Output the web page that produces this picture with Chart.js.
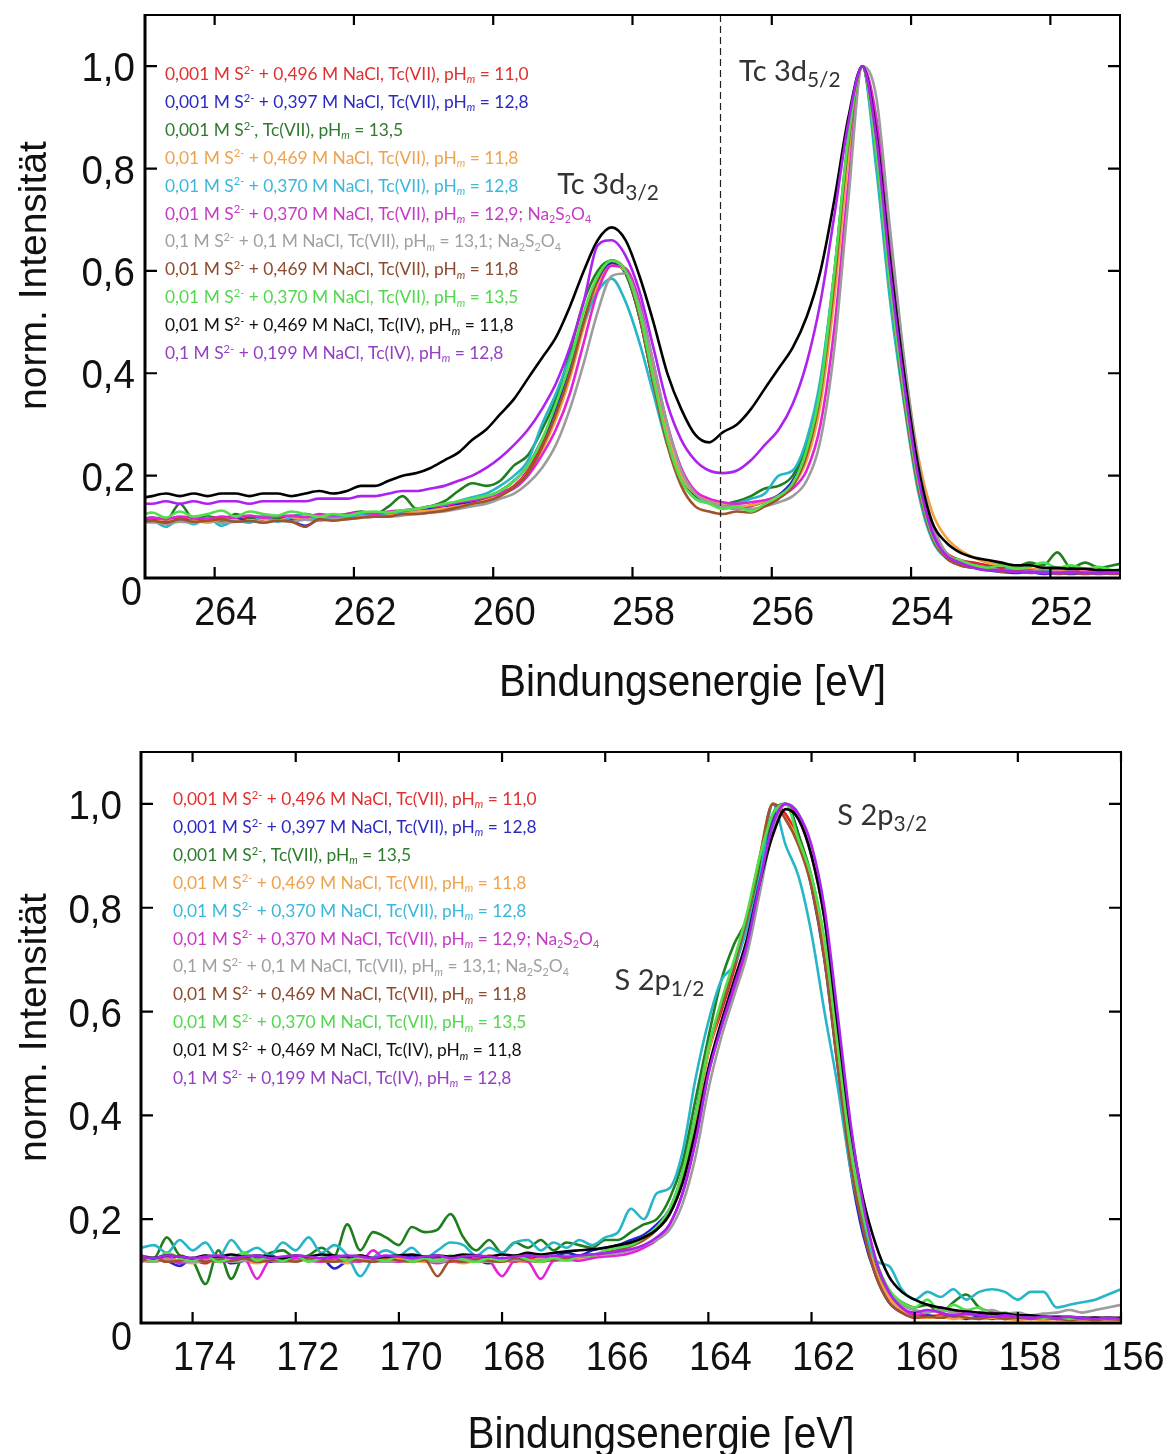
<!DOCTYPE html>
<html lang="de">
<head>
<meta charset="UTF-8">
<title>XPS Tc 3d / S 2p</title>
<script src="https://cdn.jsdelivr.net/npm/chart.js@4.4.1/dist/chart.umd.min.js"></script>
<style>
  body { margin: 0; background: #fff; }
  .plot { position: absolute; left: 0; width: 1170px; }
  #tcBox { top: 0; height: 720px; }
  #sBox { top: 730px; height: 724px; }
</style>
</head>
<body>
<div id="tcBox" class="plot"><canvas id="tcChart"></canvas></div>
<div id="sBox" class="plot"><canvas id="sChart"></canvas></div>
<script>
// ---- shared legend / colours ----
const legendLabels = [
  '0,001 M S^{2-} + 0,496 M NaCl, Tc(VII), pH_{m} = 11,0',
  '0,001 M S^{2-} + 0,397 M NaCl, Tc(VII), pH_{m} = 12,8',
  '0,001 M S^{2-}, Tc(VII), pH_{m} = 13,5',
  '0,01 M S^{2-} + 0,469 M NaCl, Tc(VII), pH_{m} = 11,8',
  '0,01 M S^{2-} + 0,370 M NaCl, Tc(VII), pH_{m} = 12,8',
  '0,01 M S^{2-} + 0,370 M NaCl, Tc(VII), pH_{m} = 12,9; Na_{2}S_{2}O_{4}',
  '0,1 M S^{2-} + 0,1 M NaCl, Tc(VII), pH_{m} = 13,1; Na_{2}S_{2}O_{4}',
  '0,01 M S^{2-} + 0,469 M NaCl, Tc(VII), pH_{m} = 11,8',
  '0,01 M S^{2-} + 0,370 M NaCl, Tc(VII), pH_{m} = 13,5',
  '0,01 M S^{2-} + 0,469 M NaCl, Tc(IV), pH_{m} = 11,8',
  '0,1 M S^{2-} + 0,199 M NaCl, Tc(IV), pH_{m} = 12,8'
];
const lineColors = ['#e8202a', '#2323d2', '#1f7f1f', '#f5a040', '#26b6c8', '#e324d6',
                    '#9c9c9c', '#a0522d', '#4fe04a', '#000000', '#ad22ee'];
const textColors = ['#e0302f', '#2b2bc4', '#2e7a2e', '#eea24e', '#3ab8dc', '#c43cc4',
                    '#a0a0a0', '#8e4a2c', '#52d84e', '#111111', '#9440c4'];

const yTicks = [0, 0.2, 0.4, 0.6, 0.8, 1.0];
const yTickLabels = ['0', '0,2', '0,4', '0,6', '0,8', '1,0'];

// ---- Tc 3d spectrum ----
const tcXTicks = [264, 262, 260, 258, 256, 254, 252];
const tcDashedAt = 256.75;
const tcEnergy = [265.1,264.9,264.7,264.5,264.3,264.1,263.9,263.7,263.5,263.3,
  263.1,262.9,262.7,262.5,262.3,262.1,261.9,261.7,261.5,261.3,
  261.1,260.9,260.7,260.5,260.3,260.1,259.9,259.7,259.5,259.3,
  259.1,258.9,258.7,258.5,258.3,258.1,257.9,257.7,257.5,257.3,
  257.1,256.9,256.7,256.5,256.3,256.1,255.9,255.7,255.5,255.3,
  255.1,254.9,254.7,254.5,254.3,254.1,253.9,253.7,253.5,253.3,
  253.1,252.9,252.7,252.5,252.3,252.1,251.9,251.7,251.5,251.3,
  251.1,250.9];
const tcRed = [.11,.115,.11,.118,.112,.12,.115,.11,.118,.115,
  .12,.115,.118,.12,.118,.122,.12,.125,.125,.128,
  .13,.133,.138,.142,.148,.155,.165,.18,.21,.26,
  .32,.4,.5,.58,.62,.6,.52,.39,.27,.19,
  .16,.15,.14,.135,.14,.15,.16,.18,.24,.36,
  .58,.85,1,.83,.57,.36,.19,.09,.05,.035,
  .03,.025,.02,.022,.018,.015,.018,.015,.012,.015,
  .012,.012];
const tcBlue = [.108,.112,.106,.114,.11,.116,.112,.118,.11,.115,
  .12,.112,.102,.115,.12,.118,.125,.122,.128,.13,
  .132,.135,.14,.145,.15,.158,.17,.19,.22,.27,
  .33,.41,.5,.58,.615,.595,.51,.38,.27,.19,
  .16,.148,.14,.138,.142,.15,.162,.19,.25,.37,
  .59,.85,1,.82,.56,.35,.18,.08,.04,.025,
  .02,.015,.012,.01,.012,.008,.01,.008,.01,.008,
  .01,.01];
const tcDarkGreen = [.11,.118,.112,.145,.115,.12,.112,.125,.118,.12,
  .115,.12,.125,.12,.118,.125,.13,.125,.14,.16,
  .135,.14,.15,.17,.185,.18,.19,.22,.24,.29,
  .35,.44,.54,.6,.62,.595,.51,.38,.27,.19,
  .16,.15,.145,.15,.16,.175,.18,.2,.26,.38,
  .6,.86,1,.82,.56,.35,.18,.08,.04,.03,
  .025,.02,.028,.022,.03,.025,.05,.02,.03,.02,
  .025,.03];
const tcOrange = [.112,.108,.115,.11,.112,.108,.115,.112,.11,.115,
  .112,.118,.115,.118,.12,.118,.122,.125,.122,.128,
  .13,.132,.136,.14,.145,.152,.162,.178,.205,.25,
  .31,.39,.49,.57,.61,.6,.53,.4,.28,.2,
  .165,.152,.145,.14,.142,.15,.16,.18,.23,.34,
  .55,.82,1,.87,.63,.42,.24,.13,.08,.055,
  .04,.03,.025,.02,.018,.015,.012,.012,.01,.01,
  .01,.01];
const tcCyan = [.105,.112,.1,.115,.105,.118,.102,.112,.108,.12,
  .11,.118,.125,.112,.12,.118,.125,.12,.128,.13,
  .135,.14,.142,.15,.158,.165,.18,.2,.23,.3,
  .36,.43,.5,.56,.585,.54,.46,.36,.26,.19,
  .155,.148,.14,.145,.155,.165,.2,.21,.27,.39,
  .6,.85,1,.8,.54,.34,.17,.075,.04,.03,
  .025,.02,.015,.02,.012,.015,.01,.012,.01,.012,
  .01,.01];
const tcMagenta = [.112,.118,.115,.12,.118,.115,.12,.118,.122,.118,
  .12,.122,.118,.125,.122,.125,.128,.125,.13,.132,
  .135,.14,.142,.148,.152,.158,.165,.175,.2,.24,
  .29,.36,.46,.56,.61,.605,.54,.42,.3,.215,
  .17,.155,.148,.145,.148,.152,.16,.175,.21,.3,
  .49,.77,1,.9,.66,.42,.22,.1,.05,.03,
  .02,.018,.015,.012,.015,.01,.012,.01,.012,.01,
  .01,.01];
const tcGray = [.108,.11,.105,.11,.108,.112,.108,.11,.112,.108,
  .112,.11,.114,.112,.115,.115,.118,.12,.12,.122,
  .125,.128,.13,.135,.14,.145,.155,.165,.185,.215,
  .26,.33,.42,.52,.59,.595,.53,.42,.3,.21,
  .165,.148,.14,.135,.135,.14,.148,.16,.19,.27,
  .45,.74,1,.94,.68,.43,.23,.11,.05,.03,
  .022,.018,.015,.015,.012,.012,.01,.012,.01,.01,
  .012,.01];
const tcBrown = [.108,.112,.108,.115,.11,.112,.115,.11,.112,.108,
  .112,.11,.1,.115,.112,.115,.118,.12,.12,.125,
  .125,.128,.132,.138,.145,.15,.16,.178,.205,.255,
  .32,.4,.5,.585,.62,.6,.51,.38,.26,.18,
  .14,.13,.125,.13,.128,.14,.155,.18,.24,.36,
  .58,.85,1,.83,.57,.35,.18,.08,.04,.025,
  .02,.018,.012,.015,.01,.012,.008,.01,.008,.01,
  .008,.008];
const tcLightGreen = [.12,.128,.118,.13,.12,.125,.132,.12,.13,.125,
  .122,.13,.125,.12,.125,.122,.128,.13,.128,.132,
  .135,.14,.145,.15,.155,.16,.17,.19,.22,.27,
  .34,.42,.52,.59,.62,.6,.52,.39,.27,.19,
  .155,.145,.135,.14,.13,.145,.16,.185,.25,.37,
  .6,.86,1,.83,.57,.36,.19,.085,.045,.035,
  .025,.02,.025,.018,.022,.03,.02,.025,.018,.022,
  .015,.02];
const tcBlack = [.155,.16,.165,.16,.165,.16,.165,.165,.16,.165,
  .165,.16,.165,.17,.165,.17,.18,.18,.19,.2,
  .205,.215,.23,.245,.27,.29,.32,.35,.39,.43,
  .47,.53,.6,.66,.685,.66,.59,.5,.4,.33,
  .28,.265,.285,.3,.33,.37,.41,.45,.51,.6,
  .74,.9,1,.87,.62,.4,.22,.11,.07,.05,
  .04,.035,.03,.025,.025,.02,.02,.018,.018,.015,
  .015,.015];
const tcPurple = [.145,.145,.15,.145,.15,.145,.15,.15,.145,.15,
  .15,.15,.15,.155,.155,.155,.16,.16,.165,.17,
  .17,.175,.18,.19,.2,.215,.235,.26,.29,.33,
  .38,.45,.54,.65,.66,.63,.56,.45,.34,.27,
  .23,.21,.205,.21,.23,.26,.29,.34,.42,.54,
  .71,.89,1,.86,.6,.38,.2,.09,.045,.03,
  .02,.015,.015,.012,.012,.01,.01,.012,.01,.01,
  .01,.01];

// ---- S 2p spectrum ----
const sXTicks = [174, 172, 170, 168, 166, 164, 162, 160, 158, 156];
const sEnergy = [175,174.75,174.5,174.25,174,173.75,173.5,173.25,173,172.75,
  172.5,172.25,172,171.75,171.5,171.25,171,170.75,170.5,170.25,
  170,169.75,169.5,169.25,169,168.75,168.5,168.25,168,167.75,
  167.5,167.25,167,166.75,166.5,166.25,166,165.75,165.5,165.25,
  165,164.75,164.5,164.25,164,163.75,163.5,163.25,163,162.75,
  162.5,162.25,162,161.75,161.5,161.25,161,160.75,160.5,160.25,
  160,159.75,159.5,159.25,159,158.75,158.5,158.25,158,157.75,
  157.5,157.25,157,156.75,156.5,156.25,156];
const sRed = [.12,.125,.118,.13,.122,.115,.128,.12,.125,.118,
  .13,.122,.12,.128,.118,.125,.12,.13,.122,.118,
  .125,.12,.128,.122,.118,.125,.12,.13,.122,.118,
  .125,.12,.128,.125,.13,.132,.135,.14,.15,.16,
  .18,.21,.28,.39,.52,.6,.68,.77,.89,1,
  .98,.93,.85,.72,.52,.32,.19,.1,.05,.025,
  .01,.012,.015,.01,.02,.012,.008,.015,.01,.008,
  .012,.008,.01,.008,.01,.008,.008];
const sBlue = [.118,.125,.12,.11,.125,.12,.128,.115,.12,.125,
  .118,.122,.128,.12,.125,.105,.12,.128,.118,.125,
  .12,.13,.118,.125,.12,.128,.122,.115,.125,.12,
  .13,.125,.128,.135,.13,.14,.145,.15,.16,.17,
  .19,.22,.29,.4,.53,.61,.69,.78,.88,.97,
  1,.94,.84,.7,.5,.3,.17,.09,.04,.02,
  .012,.015,.01,.012,.008,.012,.01,.008,.012,.01,
  .008,.01,.008,.01,.008,.01,.008];
const sDarkGreen = [.13,.125,.165,.13,.12,.075,.14,.085,.13,.125,
  .135,.14,.125,.13,.145,.13,.19,.14,.175,.165,
  .15,.185,.175,.18,.21,.165,.14,.16,.135,.155,
  .145,.16,.14,.155,.15,.145,.16,.16,.175,.19,
  .2,.24,.31,.43,.55,.66,.73,.78,.88,.98,
  1,.94,.86,.73,.53,.33,.2,.11,.06,.04,
  .03,.035,.02,.04,.055,.03,.02,.015,.012,.01,
  .012,.01,.01,.008,.01,.008,.01];
const sOrange = [.12,.118,.125,.12,.115,.122,.118,.125,.12,.115,
  .122,.118,.12,.125,.118,.12,.115,.122,.12,.118,
  .125,.12,.118,.122,.12,.115,.12,.118,.122,.12,
  .118,.125,.12,.122,.125,.13,.135,.14,.15,.16,
  .18,.21,.28,.39,.52,.61,.69,.78,.9,1,
  .97,.93,.85,.72,.52,.32,.19,.1,.05,.025,
  .012,.01,.012,.008,.01,.008,.01,.008,.006,.008,
  .006,.008,.006,.008,.006,.008,.006];
const sCyan = [.145,.15,.135,.16,.14,.155,.125,.16,.135,.145,
  .13,.155,.14,.165,.135,.15,.13,.09,.125,.14,
  .13,.145,.125,.14,.155,.15,.13,.145,.135,.155,
  .16,.14,.155,.145,.16,.15,.165,.175,.22,.2,
  .25,.26,.33,.47,.58,.66,.69,.76,.86,1,
  .92,.86,.75,.6,.46,.3,.19,.12,.11,.065,
  .045,.06,.05,.065,.045,.06,.065,.06,.045,.06,
  .06,.03,.035,.04,.045,.055,.065];
const sMagenta = [.125,.12,.128,.115,.122,.125,.118,.12,.125,.085,
  .12,.118,.125,.12,.118,.125,.12,.118,.14,.12,
  .118,.125,.12,.115,.12,.118,.125,.12,.09,.12,
  .118,.085,.12,.122,.12,.125,.128,.13,.135,.145,
  .16,.19,.25,.35,.48,.57,.64,.72,.84,.95,
  1,.97,.9,.78,.58,.37,.22,.12,.06,.03,
  .015,.02,.03,.02,.025,.015,.02,.012,.01,.012,
  .01,.008,.01,.008,.01,.008,.008];
const sGray = [.12,.118,.122,.12,.118,.12,.122,.118,.12,.122,
  .12,.118,.12,.122,.12,.118,.12,.122,.12,.118,
  .12,.122,.12,.118,.12,.122,.12,.118,.12,.122,
  .12,.122,.125,.125,.128,.13,.132,.135,.14,.15,
  .16,.18,.23,.32,.45,.55,.63,.71,.83,.95,
  1,.98,.9,.78,.58,.37,.22,.12,.06,.035,
  .025,.02,.025,.02,.015,.02,.025,.018,.02,.015,
  .018,.02,.025,.02,.025,.03,.035];
const sBrown = [.12,.125,.118,.12,.125,.118,.122,.12,.125,.118,
  .12,.122,.118,.125,.12,.118,.122,.12,.118,.125,
  .12,.118,.122,.09,.12,.118,.122,.12,.118,.125,
  .12,.118,.122,.125,.128,.13,.135,.14,.148,.16,
  .18,.21,.29,.4,.53,.61,.69,.78,.9,1,
  .97,.92,.84,.7,.5,.31,.18,.09,.04,.02,
  .01,.012,.01,.015,.01,.008,.012,.008,.01,.008,
  .01,.008,.006,.008,.006,.008,.006];
const sLightGreen = [.13,.12,.135,.125,.12,.13,.118,.125,.135,.12,
  .128,.12,.13,.118,.125,.13,.12,.128,.125,.12,
  .13,.118,.125,.12,.13,.122,.118,.125,.12,.13,
  .122,.118,.125,.12,.128,.13,.14,.145,.15,.165,
  .185,.22,.29,.4,.53,.62,.7,.79,.9,.98,
  1,.93,.86,.74,.54,.34,.21,.12,.065,.04,
  .03,.045,.02,.035,.025,.03,.015,.02,.012,.015,
  .01,.012,.008,.01,.008,.01,.008];
const sBlack = [.128,.125,.13,.128,.125,.13,.128,.132,.128,.13,
  .128,.125,.13,.128,.132,.13,.128,.13,.125,.128,
  .13,.132,.128,.13,.128,.132,.13,.128,.132,.13,
  .135,.132,.135,.138,.14,.142,.145,.15,.155,.165,
  .18,.21,.27,.37,.49,.58,.66,.74,.85,.94,
  .99,.97,.9,.78,.58,.38,.24,.15,.09,.06,
  .045,.035,.03,.025,.022,.02,.018,.018,.015,.015,
  .012,.012,.012,.01,.01,.01,.01];
const sPurple = [.128,.125,.13,.128,.125,.128,.13,.125,.128,.13,
  .125,.128,.13,.128,.125,.128,.13,.128,.125,.13,
  .128,.125,.128,.13,.125,.128,.13,.128,.125,.128,
  .13,.128,.13,.128,.13,.132,.135,.138,.142,.15,
  .165,.19,.25,.35,.48,.57,.65,.73,.85,.96,
  1,.98,.92,.8,.6,.39,.23,.12,.06,.03,
  .02,.025,.02,.015,.018,.015,.012,.015,.012,.01,
  .012,.01,.012,.01,.008,.01,.008];

const tcSeries = [tcRed, tcBlue, tcDarkGreen, tcOrange, tcCyan, tcMagenta, tcGray, tcBrown, tcLightGreen, tcBlack, tcPurple];
const sSeries = [sRed, sBlue, sDarkGreen, sOrange, sCyan, sMagenta, sGray, sBrown, sLightGreen, sBlack, sPurple];

// peak labels: [text, energy, intensity]
const tcPeakLabels = [['Tc 3d_{5/2}', 256.47, 0.971], ['Tc 3d_{3/2}', 259.08, 0.75]];
const sPeakLabels = [['S 2p_{3/2}', 161.5, 0.959], ['S 2p_{1/2}', 165.82, 0.641]];

const SANS = '"Liberation Sans", Arial, sans-serif';
const CAL = 'Lato, "Open Sans", sans-serif';

// simple rich text: ^{..} superscript, _{..} subscript (letters in italics)
function parseRich(str) {
  const parts = [];
  const re = /([\^_])\{([^}]*)\}/g;
  let last = 0, m;
  while ((m = re.exec(str))) {
    if (m.index > last) parts.push({ t: str.slice(last, m.index), k: 'n' });
    parts.push({ t: m[2], k: m[1] === '^' ? 'sup' : 'sub' });
    last = re.lastIndex;
  }
  if (last < str.length) parts.push({ t: str.slice(last), k: 'n' });
  return parts;
}

function drawRich(ctx, str, x, y, size, family, color, subScale) {
  ctx.fillStyle = color;
  ctx.textAlign = 'left';
  ctx.textBaseline = 'alphabetic';
  parseRich(str).forEach(p => {
    let s = size, dy = 0, style = '';
    if (p.k === 'sup') { s = size * 0.64; dy = -size * 0.36; }
    if (p.k === 'sub') {
      s = size * subScale; dy = size * 0.2;
      if (/^[a-z]+$/i.test(p.t)) style = 'italic ';
    }
    ctx.font = style + s + 'px ' + family;
    ctx.fillText(p.t, x, y + dy);
    x += ctx.measureText(p.t).width;
  });
}

function drawSquashed(ctx, text, x, y, sx, align) {
  ctx.save();
  ctx.translate(x, y);
  ctx.scale(sx, 1);
  ctx.textAlign = align;
  ctx.fillText(text, 0, 0);
  ctx.restore();
}

function makeDecor(cfg) {
  return {
    id: 'decor',
    afterDraw(chart) {
      const ctx = chart.ctx, a = chart.chartArea;
      const xs = chart.scales.x, ys = chart.scales.y;
      ctx.save();

      if (cfg.dashAt != null) {
        const dx = Math.round(xs.getPixelForValue(cfg.dashAt)) + 0.5;
        ctx.strokeStyle = '#222';
        ctx.lineWidth = 1.2;
        ctx.setLineDash([7, 4]);
        ctx.beginPath(); ctx.moveTo(dx, a.top); ctx.lineTo(dx, a.bottom); ctx.stroke();
        ctx.setLineDash([]);
      }

      // frame
      ctx.strokeStyle = '#000';
      ctx.lineWidth = 2;
      ctx.beginPath();
      ctx.moveTo(a.left, a.top); ctx.lineTo(a.right, a.top); ctx.lineTo(a.right, a.bottom);
      ctx.stroke();
      ctx.lineWidth = 3;
      ctx.beginPath();
      ctx.moveTo(a.left, a.top - 1); ctx.lineTo(a.left, a.bottom); ctx.lineTo(a.right + 1, a.bottom);
      ctx.stroke();

      // inward ticks
      ctx.lineWidth = 2.2;
      ctx.beginPath();
      cfg.xTicks.forEach(v => {
        const px = xs.getPixelForValue(v);
        ctx.moveTo(px, a.bottom); ctx.lineTo(px, a.bottom - 11);
        ctx.moveTo(px, a.top); ctx.lineTo(px, a.top + 10);
      });
      yTicks.forEach(v => {
        const py = ys.getPixelForValue(v);
        ctx.moveTo(a.left, py); ctx.lineTo(a.left + 12, py);
        ctx.moveTo(a.right, py); ctx.lineTo(a.right - 12, py);
      });
      ctx.stroke();

      // tick labels
      ctx.fillStyle = '#111';
      ctx.textBaseline = 'alphabetic';
      ctx.font = '41px ' + SANS;
      cfg.xTicks.forEach(v => {
        drawSquashed(ctx, String(v), xs.getPixelForValue(v) + cfg.xLabelShift, a.bottom + 47, 0.92, 'center');
      });
      yTicks.forEach((v, i) => {
        const py = ys.getPixelForValue(v);
        if (v === 0) drawSquashed(ctx, yTickLabels[i], a.left - cfg.zeroGap, py + 27, 0.92, 'right');
        else drawSquashed(ctx, yTickLabels[i], a.left - cfg.yLabelGap, py + 15, 0.94, 'right');
      });

      // axis titles
      ctx.font = '44px ' + SANS;
      drawSquashed(ctx, 'Bindungsenergie [eV]', (a.left + a.right) / 2 + cfg.xTitleDx, a.bottom + cfg.xTitleDy, 0.92, 'center');
      ctx.save();
      ctx.translate(46, (a.top + a.bottom) / 2 + cfg.yTitleDy);
      ctx.rotate(-Math.PI / 2);
      ctx.font = '39px ' + SANS;
      ctx.textAlign = 'center';
      ctx.fillText('norm. Intensität', 0, 0);
      ctx.restore();

      // legend
      legendLabels.forEach((lab, i) => {
        drawRich(ctx, lab, a.left + cfg.legendDx, a.top + cfg.legendDy + i * 27.9, 17.4, CAL, textColors[i], 0.62);
      });

      // peak labels
      cfg.peaks.forEach(p => {
        drawRich(ctx, p[0], xs.getPixelForValue(p[1]), ys.getPixelForValue(p[2]), 29, CAL, '#333', 0.72);
      });

      ctx.restore();
    }
  };
}

function buildSets(energy, series) {
  return series.map((vals, i) => {
    if (vals.length !== energy.length) throw new Error('length mismatch in series ' + i + ': ' + vals.length + ' vs ' + energy.length);
    return {
      label: legendLabels[i],
      data: energy.map((e, k) => ({ x: e, y: vals[k] })),
      borderColor: lineColors[i],
      borderWidth: 2.6,
      pointRadius: 0,
      fill: false,
      cubicInterpolationMode: 'monotone',
      order: series.length - i
    };
  });
}

function makeChart(id, energy, series, cfg) {
  return new Chart(document.getElementById(id), {
    type: 'line',
    data: { datasets: buildSets(energy, series) },
    options: {
      responsive: true,
      maintainAspectRatio: false,
      animation: false,
      devicePixelRatio: 1,
      events: [],
      layout: { autoPadding: false, padding: { left: 0, top: cfg.padTop, right: cfg.padRight, bottom: 0 } },
      plugins: { legend: { display: false }, tooltip: { enabled: false } },
      scales: {
        x: {
          type: 'linear', reverse: true, min: cfg.xMin, max: cfg.xMax,
          grid: { display: false }, border: { display: false }, ticks: { display: false },
          afterFit: s => { s.height = cfg.xAxisH; }
        },
        y: {
          type: 'linear', min: 0, max: 1.1,
          grid: { display: false }, border: { display: false }, ticks: { display: false },
          afterFit: s => { s.width = cfg.yAxisW; }
        }
      }
    },
    plugins: [makeDecor(cfg)]
  });
}

makeChart('tcChart', tcEnergy, tcSeries, {
  xMin: 251, xMax: 265, padTop: 15, padRight: 50, xAxisH: 142, yAxisW: 145,
  xTicks: tcXTicks, dashAt: tcDashedAt, xLabelShift: 11,
  yLabelGap: 10, zeroGap: 3, xTitleDx: 60, xTitleDy: 118, yTitleDy: -21,
  legendDx: 20, legendDy: 65, peaks: tcPeakLabels
});

makeChart('sChart', sEnergy, sSeries, {
  xMin: 156, xMax: 175, padTop: 22, padRight: 49, xAxisH: 131, yAxisW: 141,
  xTicks: sXTicks, dashAt: null, xLabelShift: 12,
  yLabelGap: 19, zeroGap: 9, xTitleDx: 30, xTitleDy: 125, yTitleDy: -10,
  legendDx: 32, legendDy: 53, peaks: sPeakLabels
});
</script>
</body>
</html>
